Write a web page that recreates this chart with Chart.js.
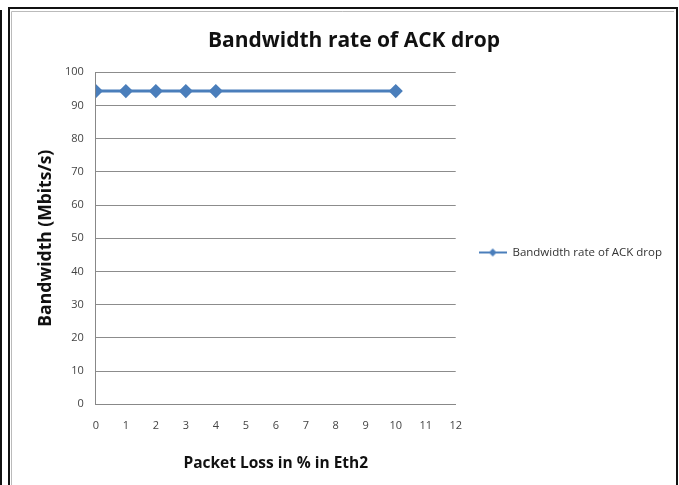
<!DOCTYPE html>
<html>
<head>
<meta charset="utf-8">
<script src="https://cdn.jsdelivr.net/npm/chart.js@4"></script>
<style>
  html, body { margin: 0; padding: 0; background: #fff; }
  #wrap { width: 679px; height: 485px; position: relative; }
</style>
</head>
<body>
<div id="wrap"><canvas id="c" width="679" height="485"></canvas></div>
<script>
// Packet loss (%) on Eth2 and measured bandwidth while ACKs are dropped
const packetLoss = [0, 1, 2, 3, 4, 10];
const bandwidth = [94.3, 94.3, 94.3, 94.3, 94.3, 94.3];
const yTicks = [0, 10, 20, 30, 40, 50, 60, 70, 80, 90, 100];
const xTicks = [0, 1, 2, 3, 4, 5, 6, 7, 8, 9, 10, 11, 12];
const seriesName = 'Bandwidth rate of ACK drop';

const lineColor = '#4a7ebb';
const fontFamily = '"Open Sans", Lato, sans-serif';

// Legend swatch: short line with a diamond marker
function legendSwatch() {
  const cv = document.createElement('canvas');
  cv.width = 28; cv.height = 10;
  const g = cv.getContext('2d');
  g.strokeStyle = lineColor; g.lineWidth = 2;
  g.beginPath(); g.moveTo(0, 5); g.lineTo(28, 5); g.stroke();
  g.fillStyle = lineColor;
  g.beginPath(); g.moveTo(14, 1); g.lineTo(18, 5); g.lineTo(14, 9); g.lineTo(10, 5); g.closePath(); g.fill();
  return cv;
}

// Outer frame around the chart
const framePlugin = {
  id: 'frame',
  beforeDraw(chart) {
    const ctx = chart.ctx;
    ctx.save();
    ctx.fillStyle = '#fff';
    ctx.fillRect(0, 0, chart.width, chart.height);
    ctx.strokeStyle = '#111';
    ctx.lineWidth = 2;
    ctx.beginPath(); ctx.moveTo(1, 10); ctx.lineTo(1, chart.height); ctx.stroke();
    ctx.beginPath();
    ctx.moveTo(9, chart.height); ctx.lineTo(9, 8); ctx.lineTo(677, 8); ctx.lineTo(677, chart.height);
    ctx.stroke();
    ctx.strokeStyle = '#bbb';
    ctx.lineWidth = 1;
    ctx.beginPath();
    ctx.moveTo(11.5, chart.height); ctx.lineTo(11.5, 11.5); ctx.lineTo(674, 11.5);
    ctx.stroke();
    ctx.restore();
  }
};

new Chart(document.getElementById('c'), {
  type: 'line',
  data: {
    datasets: [{
      label: seriesName,
      data: packetLoss.map((x, i) => ({ x: x, y: bandwidth[i] })),
      borderColor: lineColor,
      backgroundColor: lineColor,
      borderWidth: 3,
      pointStyle: 'rectRot',
      pointRadius: 5,
      pointHoverRadius: 5,
      pointBackgroundColor: lineColor,
      pointBorderColor: lineColor,
      tension: 0
    }]
  },
  options: {
    responsive: false,
    animation: false,
    layout: { padding: { left: 36, right: 7, top: 28, bottom: 8 } },
    plugins: {
      title: {
        display: true,
        text: seriesName,
        color: '#111',
        font: { family: fontFamily, size: 21, weight: 'bold' },
        padding: { top: 0, bottom: 19 }
      },
      legend: {
        position: 'right',
        maxWidth: 260,
        labels: {
          usePointStyle: true,
          pointStyle: legendSwatch(),
          pointStyleWidth: 28,
          color: '#333',
          font: { family: fontFamily, size: 11.5 },
          padding: 23
        }
      },
      tooltip: { enabled: false }
    },
    scales: {
      x: {
        type: 'linear',
        min: 0, max: 12,
        afterBuildTicks(axis) { axis.ticks = xTicks.map(v => ({ value: v })); },
        grid: { display: false, drawTicks: false },
        border: { color: '#888', width: 1 },
        ticks: { color: '#444', font: { family: fontFamily, size: 11 }, padding: 15, maxRotation: 0 },
        title: {
          display: true, text: 'Packet Loss in % in Eth2', color: '#111',
          font: { family: fontFamily, size: 15.5, weight: 'bold' }, padding: { top: 7 }
        }
      },
      y: {
        min: 0, max: 100,
        afterBuildTicks(axis) { axis.ticks = yTicks.map(v => ({ value: v })); },
        grid: { color: '#8c8c8c', drawTicks: false },
        border: { color: '#888', width: 1 },
        ticks: { color: '#444', font: { family: fontFamily, size: 11 }, padding: 12 },
        title: {
          display: true, text: 'Bandwidth (Mbits/s)', color: '#111',
          font: { family: fontFamily, size: 17.5, weight: 'bold' }, padding: { top: 0, bottom: -4 }
        }
      }
    }
  },
  plugins: [framePlugin]
});
</script>
</body>
</html>
